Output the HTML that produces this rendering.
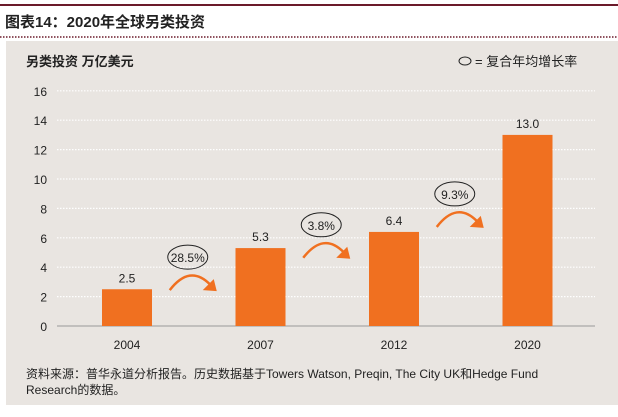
<!DOCTYPE html>
<html><head><meta charset="utf-8"><style>
body{margin:0;width:618px;height:412px;background:#fff;overflow:hidden;font-family:"Liberation Sans","Noto Sans CJK SC",sans-serif}
</style></head><body>
<svg width="618" height="412" xmlns="http://www.w3.org/2000/svg" font-family="Liberation Sans, Noto Sans CJK SC, sans-serif">
<rect x="0" y="4" width="618" height="2" fill="#6b1a2a"/>
<text x="5" y="27" font-size="15" font-weight="bold" fill="#222">图表14：2020年全球另类投资</text>
<line x1="0" y1="37" x2="618" y2="37" stroke="#6b1a2a" stroke-width="1.5" stroke-dasharray="1.5,1.5"/>
<rect x="6" y="41" width="612" height="364" fill="#e9e5e1"/>
<text x="26" y="66" font-size="13" font-weight="bold" fill="#222">另类投资 万亿美元</text>
<ellipse cx="465" cy="61" rx="6" ry="4" fill="none" stroke="#222"/>
<text x="475" y="66" font-size="13" fill="#222">= 复合年均增长率</text>
<g id="grid"></g><g id="bars"></g><g id="ann"></g>
<text x="26" y="378" font-size="12" fill="#222">资料来源：普华永道分析报告。历史数据基于Towers Watson, Preqin, The City UK和Hedge Fund</text>
<text x="26" y="394" font-size="12" fill="#222">Research的数据。</text>
</svg>
<script>
const categories=["2004","2007","2012","2020"];
const values=[2.5,5.3,6.4,13.0];
const valueLabels=["2.5","5.3","6.4","13.0"];
const ticks=[0,2,4,6,8,10,12,14,16];
const cagrLabels=["28.5%","3.8%","9.3%"];
const cagrLevel=[3.8,6.0,8.1];
const NS="http://www.w3.org/2000/svg";
const y=v=>326-v*14.7;
const x=i=>127+i*133.5;
function mk(t,a,p){const e=document.createElementNS(NS,t);for(const k in a)e.setAttribute(k,a[k]);p.appendChild(e);return e;}
const grid=document.getElementById('grid'),bars=document.getElementById('bars'),ann=document.getElementById('ann');
ticks.forEach(t=>{
 if(t>0){const l=mk('line',{x1:57,x2:595,y1:y(t),y2:y(t),stroke:'#fff','stroke-width':1.2,'stroke-dasharray':'1.5,1.5'},grid);
 
 }
 const tx=mk('text',{x:47,y:y(t)+5,'font-size':12,fill:'#222','text-anchor':'end'},grid);tx.textContent=t;
 
 
});
const ax=mk('line',{x1:57,x2:595,y1:y(0),y2:y(0),stroke:'#999','stroke-width':1},grid);


categories.forEach((c,i)=>{
 const r=mk('rect',{x:x(i)-25,y:y(values[i]),width:50,height:y(0)-y(values[i]),fill:'#f07020'},bars);
 
 
 const v=mk('text',{x:x(i),y:y(values[i])-7,'font-size':12,fill:'#222','text-anchor':'middle'},bars);v.textContent=valueLabels[i];
 
 
 const cl=mk('text',{x:x(i),y:349,'font-size':12,fill:'#222','text-anchor':'middle'},bars);cl.textContent=c;
 
 
});
cagrLabels.forEach((l,i)=>{
 const cx=(x(i)+x(i+1))/2, cy=y(cagrLevel[i]);
 const a=mk('path',{d:`M${cx-24} ${cy+20} Q${cx-4} ${cy-6} ${cx+16} ${cy+14}`,fill:'none',stroke:'#f07020','stroke-width':2.5},ann);
 
 
 const h=mk('path',{d:`M${cx+23} ${cy+21} L${cx+9} ${cy+20} L${cx+20} ${cy+9} Z`,fill:'#f07020'},ann);
 
 
 const e=mk('ellipse',{cx:cx-6,cy:cy-13,rx:20,ry:12,fill:'none',stroke:'#222','stroke-width':1},ann);
 
 
 const t=mk('text',{x:cx-6,y:cy-8,'font-size':12,fill:'#222','text-anchor':'middle'},ann);t.textContent=l;
 
 
});
</script>
</body></html>
